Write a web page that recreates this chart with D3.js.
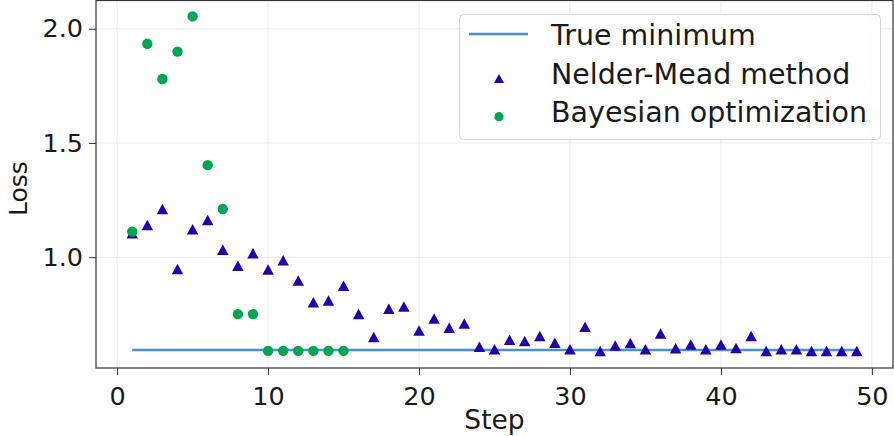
<!DOCTYPE html>
<html>
<head>
<meta charset="utf-8">
<script src="https://cdn.jsdelivr.net/npm/d3@7"></script>
<style>
  html, body { margin: 0; padding: 0; background: #fff; }
  svg { display: block; font-family: "DejaVu Sans", sans-serif; }
</style>
</head>
<body>
<svg id="chart" width="894" height="436"></svg>
<script>
// ---- data ----
const nmSteps = d3.range(1, 50);
const nmLoss = [1.105, 1.141, 1.211, 0.948, 1.122, 1.163, 1.033, 0.963, 1.017, 0.946,
  0.987, 0.898, 0.803, 0.810, 0.875, 0.751, 0.651, 0.774, 0.784, 0.679,
  0.732, 0.691, 0.710, 0.608, 0.597, 0.639, 0.633, 0.655, 0.626, 0.597,
  0.696, 0.589, 0.614, 0.624, 0.597, 0.666, 0.601, 0.618, 0.597, 0.618,
  0.603, 0.655, 0.589, 0.597, 0.597, 0.589, 0.589, 0.589, 0.589];
const boSteps = d3.range(1, 16);
const boLoss = [1.112, 1.934, 1.780, 1.900, 2.054, 1.403, 1.211, 0.751, 0.751,
  0.590, 0.590, 0.590, 0.590, 0.590, 0.590];
const trueMinSteps = [1, 49];
const trueMin = 0.594;
const xTicks = [0, 10, 20, 30, 40, 50];
const yTicks = [1.0, 1.5, 2.0];
const legendLabels = ["True minimum", "Nelder-Mead method", "Bayesian optimization"];

// ---- layout ----
const svg = d3.select("#chart");
const L = 96, R = 893, T = 0.5, B = 368;
const x = d3.scaleLinear().domain([-1.4, 51.4]).range([L, R]);
const y = d3.scaleLinear().domain([0.515, 2.1236]).range([B, T]);

const colLine = "#4a90d0", colNM = "#2400aa", colBO = "#00a651";

// grid
const grid = svg.append("g");
grid.selectAll(".gx").data(xTicks).enter().append("line")
  .attr("x1", d => x(d)).attr("x2", d => x(d)).attr("y1", T).attr("y2", B)
  .attr("stroke", "#ebebeb").attr("stroke-width", 1);
grid.selectAll(".gy").data(yTicks).enter().append("line")
  .attr("y1", d => y(d)).attr("y2", d => y(d)).attr("x1", L).attr("x2", R)
  .attr("stroke", "#ebebeb").attr("stroke-width", 1);

// axes
const xAxis = svg.append("g").attr("transform", `translate(0,${B})`)
  .call(d3.axisBottom(x).tickValues(xTicks).tickFormat(d3.format("d")).tickSize(7).tickPadding(6));
const yAxis = svg.append("g").attr("transform", `translate(${L},0)`)
  .call(d3.axisLeft(y).tickValues(yTicks).tickFormat(d3.format(".1f")).tickSize(7).tickPadding(6));
[xAxis, yAxis].forEach(a => {
  a.select(".domain").remove();
  a.selectAll(".tick line").attr("stroke", "#333").attr("stroke-width", 1);
  a.selectAll(".tick text").attr("fill", "#1a1a1a").style("font-size", "25.5px")
    .style("font-family", "DejaVu Sans");
});
xAxis.selectAll(".tick text").attr("dy", "0.95em");

// spines
svg.append("rect").attr("x", L).attr("y", T).attr("width", R - L).attr("height", B - T)
  .attr("fill", "none").attr("stroke", "#333").attr("stroke-width", 1.2);

// true minimum line
svg.append("path")
  .datum(trueMinSteps)
  .attr("d", d3.line().x(d => x(d)).y(() => y(trueMin)))
  .attr("stroke", colLine).attr("stroke-width", 2.4).attr("fill", "none");

// triangle marker centered on its bounding box (matplotlib style)
const tri = (w, h) => `M0,${-h / 2}L${w / 2},${h / 2}L${-w / 2},${h / 2}Z`;

svg.append("g").selectAll("path").data(nmSteps).enter().append("path")
  .attr("transform", (d, i) => `translate(${x(d)},${y(nmLoss[i])})`)
  .attr("d", tri(11.5, 10.5)).attr("fill", colNM);

svg.append("g").selectAll("circle").data(boSteps).enter().append("circle")
  .attr("cx", d => x(d)).attr("cy", (d, i) => y(boLoss[i]))
  .attr("r", 5.2).attr("fill", colBO);

// axis labels
svg.append("text").attr("x", (L + R) / 2).attr("y", 429).attr("text-anchor", "middle")
  .style("font-size", "26.5px").attr("fill", "#1a1a1a").text("Step");
svg.append("text").attr("transform", `translate(27,${y(1.3)}) rotate(-90)`)
  .attr("text-anchor", "middle").style("font-size", "25px").attr("fill", "#1a1a1a").text("Loss");

// legend
const lg = svg.append("g");
lg.append("rect").attr("x", 459.5).attr("y", 14.5).attr("width", 421).attr("height", 125)
  .attr("rx", 4).attr("fill", "#fff").attr("fill-opacity", 0.85).attr("stroke", "#d5d5d5");
const baselines = [45, 83.5, 122];
lg.append("line").attr("x1", 469).attr("x2", 528).attr("y1", 34).attr("y2", 34)
  .attr("stroke", colLine).attr("stroke-width", 2.4);
lg.append("path").attr("transform", "translate(499,78.5)").attr("d", tri(10, 9)).attr("fill", colNM);
lg.append("circle").attr("cx", 499).attr("cy", 116.7).attr("r", 4.6).attr("fill", colBO);
lg.selectAll("text.lab").data(legendLabels).enter().append("text")
  .attr("x", 551).attr("y", (d, i) => baselines[i])
  .style("font-size", "28.5px").attr("fill", "#1a1a1a").text(d => d);
</script>
</body>
</html>
